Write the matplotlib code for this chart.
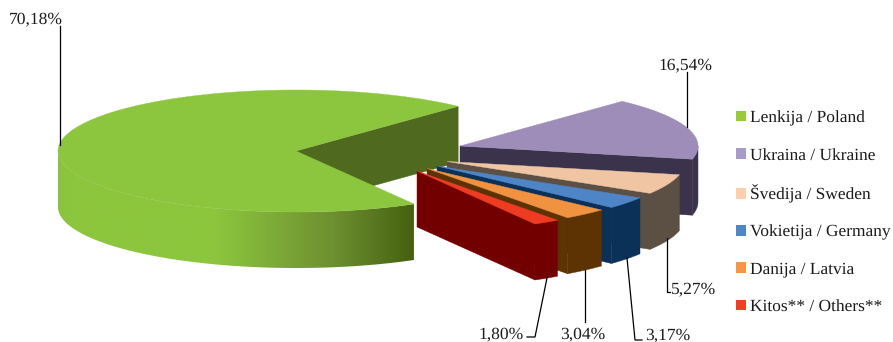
import numpy as np
import matplotlib
matplotlib.use('Agg')
import matplotlib.pyplot as plt
from matplotlib.patches import Patch, Polygon
from matplotlib.colors import LinearSegmentedColormap

# data
labels = ['Lenkija / Poland', 'Ukraina / Ukraine', 'Švedija / Sweden',
          'Vokietija / Germany', 'Danija / Latvia', 'Kitos** / Others**']
shares = [70.18, 16.54, 5.27, 3.17, 3.04, 1.80]
share_text = ['70,18%', '16,54%', '5,27%', '3,17%', '3,04%', '1,80%']

# colours
legend_cols = ['#97CB3C', '#A99BC7', '#FCCFAE', '#4F86C6', '#F79646', '#EE4023']
top_cols = ['#8CC63E', '#9E8DB8', '#EFC5A3', '#4D85C6', '#F0923F', '#EE3B21']
side_cols = ['#4F6A1F', '#3B334B', '#5C5045', '#0B3159', '#5E3303', '#730000']

# pie layout, in pixels of the 893x342 picture
apex_x = [296, 460, 447, 437, 427, 417]
apex_y = [151, 146, 161.5, 166, 168.5, 171]
rx, ry = 238, 61
depth = 56
start_angle = 299.7

# leader lines and label anchors (left end, baseline)
leaders = [
    [(60, 26), (60, 145)],
    [(687, 72), (687, 127)],
    [(667, 238), (667, 292), (670, 292)],
    [(627, 258), (635, 340), (642, 340)],
    [(585, 270), (585, 322)],
    [(547, 278), (535, 337), (527, 337)],
]
label_pos = [(9, 23.5), (658, 69), (671, 293.5), (645, 339), (560, 338.5), (478, 338.5)]

plt.rcParams['font.family'] = ['Liberation Serif', 'DejaVu Sans']
plt.rcParams['text.hinting'] = 'none'

fig = plt.figure(figsize=(8.93, 3.42), dpi=100)
ax = fig.add_axes([0, 0, 1, 1])
ax.axis('off')

wall_cmap = LinearSegmentedColormap.from_list('wall', ['#8CC63E', '#6D8F30', '#45600F'])


def rim(cx, cy, t):
    r = np.radians(t)
    return cx + rx * np.cos(r), cy - ry * np.sin(r)


def front_range(t1, t2):
    # part of the arc t1 > t2 that faces the viewer (below the ellipse centre)
    if t1 > 180 and t2 < 180:
        return t1, 180
    if t1 > 0 and t2 < 0:
        return 0, t2
    return t1, t2


edges = start_angle - np.concatenate([[0], np.cumsum(shares)]) * 3.6

for i in range(len(shares)):
    cx, cy = apex_x[i], apex_y[i]
    t1, t2 = edges[i], edges[i + 1]

    # cut face on the clockwise side
    ex, ey = rim(cx, cy, t2)
    ax.fill([cx, ex, ex, cx], [cy, ey, ey + depth, cy + depth],
            color=side_cols[i], lw=0.3)

    # outer wall
    a, b = front_range(t1, t2)
    ts = np.linspace(a, b, 160)
    xs, ys = rim(cx, cy, ts)
    wall_x = np.r_[xs, xs[::-1]]
    wall_y = np.r_[ys, ys[::-1] + depth]
    if i == 0:
        # the big slice darkens towards its cut end
        gx = np.arange(xs.min(), xs.max() + 1)
        shade = np.interp(gx, [58, 75, 215, 335, 415], [0.03, 0, 0, 0.5, 1])
        im = ax.imshow(shade[np.newaxis, :], cmap=wall_cmap, vmin=0, vmax=1, aspect='auto',
                       extent=(gx[0], gx[-1], wall_y.max() + 1, wall_y.min() - 1))
        clip = Polygon(np.c_[wall_x, wall_y], transform=ax.transData, fc='none', ec='none')
        ax.add_patch(clip)
        im.set_clip_path(clip)
    else:
        ax.fill(wall_x, wall_y, color=side_cols[i], lw=0.3)

    # top
    ts = np.linspace(t1, t2, 200)
    xs, ys = rim(cx, cy, ts)
    ax.fill(np.r_[cx, xs], np.r_[cy, ys], color=top_cols[i], lw=0.3)

for pts, txt, pos in zip(leaders, share_text, label_pos):
    ax.plot([p[0] for p in pts], [p[1] for p in pts], color='black', lw=0.9,
            solid_joinstyle='miter')
    ax.text(pos[0], pos[1], txt, fontsize=12.6, ha='left', va='baseline', color='#1a1a1a')

ax.set_xlim(0, 893)
ax.set_ylim(342, 0)

handles = [Patch(facecolor=c, edgecolor='none') for c in legend_cols]
fig.legend(handles, labels, loc='upper left', bbox_to_anchor=(736 / 893, 1 - 110.5 / 342),
           frameon=False, fontsize=12.5, handlelength=0.55, handleheight=0.55,
           handletextpad=0.25, labelspacing=1.25, borderpad=0, borderaxespad=0,
           labelcolor='#1a1a1a')

fig.savefig('out.png', dpi=100)
